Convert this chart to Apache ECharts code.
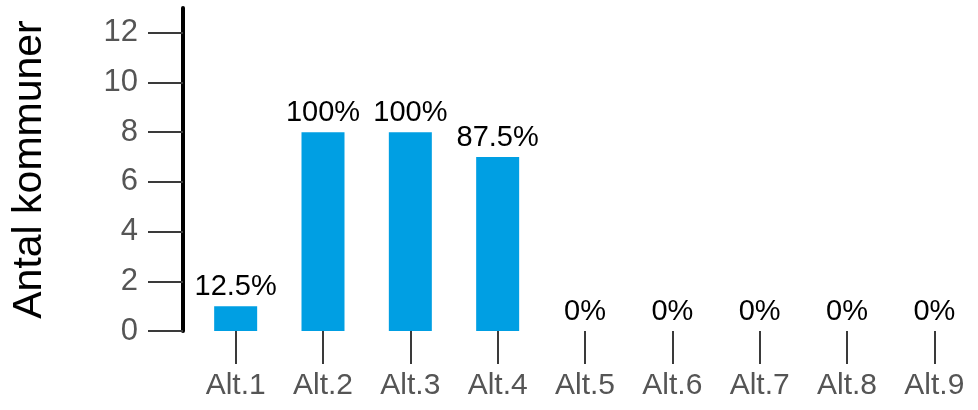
<!DOCTYPE html>
<html><head><meta charset="utf-8">
<script src="https://cdn.jsdelivr.net/npm/echarts@6/dist/echarts.min.js"></script>
<style>html,body{margin:0;padding:0;background:#fff}#c{width:978px;height:410px}</style>
</head><body><div id="c"></div>
<script>
const categories = ["Alt.1","Alt.2","Alt.3","Alt.4","Alt.5","Alt.6","Alt.7","Alt.8","Alt.9"];
const values = [1, 8, 8, 7, 0, 0, 0, 0, 0];
const percentLabels = ["12.5%","100%","100%","87.5%","0%","0%","0%","0%","0%"];
const yTicks = [0, 2, 4, 6, 8, 10, 12];
const yName = "Antal kommuner";

const chart = echarts.init(document.getElementById('c'));
chart.setOption({
  animation: false,
  textStyle: {fontFamily: 'Liberation Sans, Arial, sans-serif'},
  grid: {left: 192, right: -3, top: 8, bottom: 79},
  xAxis: {
    type: 'category', data: categories, offset: 4,
    axisLine: {show: false},
    axisTick: {show: true, alignWithLabel: true, length: 33, lineStyle: {color: '#3a3a3a', width: 2}},
    axisLabel: {margin: 36, fontSize: 30, color: '#555555', fontFamily: 'Liberation Sans'}
  },
  yAxis: {
    type: 'value', min: 0, max: 13, offset: 9,
    name: yName, nameLocation: 'middle', nameGap: 133, nameRotate: 90,
    nameTextStyle: {fontSize: 41, color: '#000', fontFamily: 'Liberation Sans'},
    splitLine: {show: false},
    axisLine: {show: true, lineStyle: {color: '#000', width: 4}},
    axisTick: {show: true, length: 35, customValues: yTicks, lineStyle: {color: '#3a3a3a', width: 2}},
    axisLabel: {margin: 45, fontSize: 31, color: '#555555', customValues: yTicks, fontFamily: 'Liberation Sans'}
  },
  series: [{
    type: 'bar', data: values, barWidth: 43,
    itemStyle: {color: '#009FE3'},
    label: {show: true, position: 'top', distance: 5, fontSize: 29, color: '#000',
      fontFamily: 'Liberation Sans',
      formatter: p => percentLabels[p.dataIndex]}
  }]
});
</script></body></html>
